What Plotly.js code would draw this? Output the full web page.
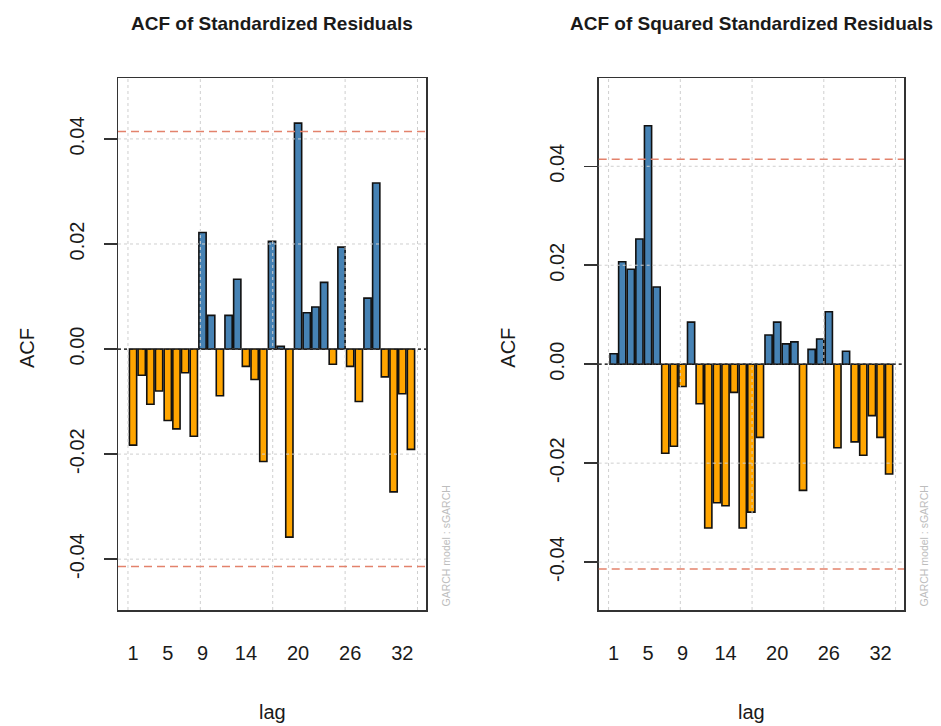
<!DOCTYPE html>
<html><head><meta charset="utf-8">
<script src="https://cdn.plot.ly/plotly-3.0.1.min.js"></script>
<style>html,body{margin:0;padding:0;background:#fff}#chart{width:941px;height:726px}</style>
</head><body><div id="chart"></div>
<script>
// ---- data ----
const lags = [1,2,3,4,5,6,7,8,9,10,11,12,13,14,15,16,17,18,19,20,21,22,23,24,25,26,27,28,29,30,31,32,33];
const acfStd = [-0.0183,-0.0050,-0.0105,-0.0080,-0.0136,-0.0152,-0.0045,-0.0166,0.0222,0.0064,
                -0.0089,0.0064,0.0133,-0.0033,-0.0058,-0.0214,0.0205,0.0005,-0.0358,0.0430,
                0.0069,0.0080,0.0127,-0.0029,0.0194,-0.0033,-0.0100,0.0097,0.0316,-0.0053,
                -0.0272,-0.0085,-0.0191];
const acfSq = [0.0021,0.0207,0.0192,0.0253,0.0482,0.0156,-0.0180,-0.0166,-0.0045,0.0085,
               -0.0080,-0.0331,-0.0280,-0.0286,-0.0057,-0.0331,-0.0299,-0.0148,0.0059,0.0085,
               0.0041,0.0045,-0.0255,0.0030,0.0051,0.0106,-0.0169,0.0026,-0.0157,-0.0184,
               -0.0104,-0.0148,-0.0222];
const tickLags = [1,5,9,14,20,26,32];
const yTickVals = [-0.04,-0.02,0,0.02,0.04];
const yTickText = ['-0.04','-0.02','0.00','0.02','0.04'];
const xGridVals = [0,10,20,30,40];
const confLimit = 0.0414;
const titles = ['ACF of Standardized Residuals','ACF of Squared Standardized Residuals'];
const modelNote = 'GARCH model : sGARCH';

// ---- helpers ----
const W = 941, H = 726;
const barPos = l => 0.7 + 1.2*(l-1);           // R barplot, width 1, space 0.2
const xMin = 0.2, xMax = 0.2 + 1.2*lags.length - 0.2;
const xPad = 0.04*(xMax - xMin);
const xRange = [xMin - xPad, xMax + xPad];
const colOf = v => v >= 0 ? '#4682B4' : '#FFA500';
const yRangeOf = vals => {
  const lo = Math.min(-confLimit, ...vals), hi = Math.max(confLimit, ...vals);
  return [1.2*lo, 1.2*hi];
};
const FONT = 'Liberation Sans, Arial, sans-serif';

const panels = [
  {vals: acfStd, xa:'x', ya:'y', dom:[118/W, 426/W]},
  {vals: acfSq,  xa:'x2', ya:'y2', dom:[598.7/W, 904/W]}
];
const yDom = [1-610/H, 1-78/H];

const data = panels.map(p => ({
  type:'bar', x: lags.map(barPos), y: p.vals, width: lags.map(()=>1),
  marker:{color: p.vals.map(colOf), line:{color:'#111', width:1.6}},
  xaxis:p.xa, yaxis:p.ya, hoverinfo:'skip', showlegend:false
}));

const layout = {
  width:W, height:H, margin:{l:0,r:0,t:0,b:0},
  paper_bgcolor:'#fff', plot_bgcolor:'#fff',
  font:{family:FONT, color:'#1a1a1a', size:20},
  bargap:0, shapes:[], annotations:[]
};

panels.forEach((p,i) => {
  const sx = i===0 ? '' : '2';
  const xax = {
    domain:p.dom, range:xRange, anchor:'y'+sx,
    tickmode:'array', tickvals: tickLags.map(barPos), ticktext: tickLags.map(String),
    ticks:'', ticklabelstandoff:24, showgrid:false, zeroline:false,
    showline:true, mirror:true, linecolor:'#333', linewidth:1.5,
    tickfont:{size:20, family:FONT, color:'#1a1a1a'}, fixedrange:true
  };
  const yax = {
    domain:yDom, range:yRangeOf(p.vals), anchor:'x'+sx,
    tickmode:'array', tickvals:yTickVals, ticktext:yTickText, tickangle:-90,
    ticks:'outside', ticklen:13, tickwidth:1.5, tickcolor:'#333', ticklabelstandoff:12,
    showgrid:false, zeroline:false,
    showline:true, mirror:true, linecolor:'#333', linewidth:1.5,
    tickfont:{size:20, family:FONT, color:'#1a1a1a'}, fixedrange:true
  };
  layout['xaxis'+sx] = xax;
  layout['yaxis'+sx] = yax;

  // grid (R grid(): lightgray dotted, drawn over bars)
  xGridVals.forEach(g => layout.shapes.push({type:'line', xref:p.xa, yref:p.ya+' domain',
    x0:g, x1:g, y0:0, y1:1, line:{color:'#cfcfcf', width:1, dash:'dot'}, layer:'above'}));
  yTickVals.forEach(g => layout.shapes.push({type:'line', xref:p.xa+' domain', yref:p.ya,
    x0:0, x1:1, y0:g, y1:g, line:{color:'#cfcfcf', width:1, dash:'dot'}, layer:'above'}));
  // confidence limits
  [confLimit, -confLimit].forEach(c => layout.shapes.push({type:'line', xref:p.xa+' domain', yref:p.ya,
    x0:0, x1:1, y0:c, y1:c, line:{color:'#e3826c', width:1.5, dash:'8px,5px'}, layer:'above'}));
  // zero line
  layout.shapes.push({type:'line', xref:p.xa+' domain', yref:p.ya,
    x0:0, x1:1, y0:0, y1:0, line:{color:'#000', width:1.3, dash:'dot'}, layer:'above'});

  const cx = (p.dom[0]+p.dom[1])/2;
  layout.annotations.push({text:'<b>'+titles[i]+'</b>', xref:'paper', yref:'paper',
    x:cx, y:1-23/H, xanchor:'center', yanchor:'middle', showarrow:false,
    font:{size:19, family:FONT, color:'#1a1a1a'}});
  layout.annotations.push({text:'lag', xref:'paper', yref:'paper',
    x:cx, y:1-712/H, xanchor:'center', yanchor:'middle', showarrow:false,
    font:{size:20, family:FONT, color:'#1a1a1a'}});
  layout.annotations.push({text:'ACF', xref:'paper', yref:'paper',
    x:p.dom[0]-91/W, y:1-348/H, xanchor:'center', yanchor:'middle', textangle:-90, showarrow:false,
    font:{size:20, family:FONT, color:'#1a1a1a'}});
  layout.annotations.push({text:modelNote, xref:'paper', yref:'paper',
    x:p.dom[1]+19/W, y:1-609/H, xanchor:'center', yanchor:'bottom', textangle:-90, showarrow:false,
    font:{size:10.5, family:FONT, color:'#bdbdbd'}});
});

Plotly.newPlot('chart', data, layout, {staticPlot:true, displayModeBar:false});
</script>
</body></html>
